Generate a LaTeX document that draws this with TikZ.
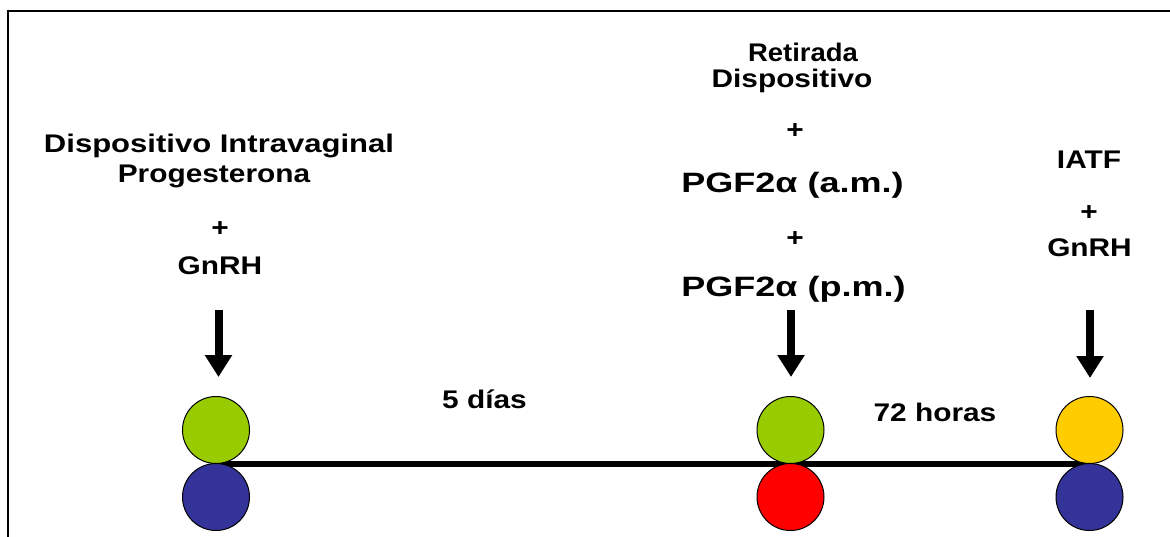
\documentclass[tikz,border=0pt]{standalone}
\usepackage{fontspec}
\setmainfont{Liberation Sans}[FakeStretch=1.17]
\usetikzlibrary{arrows.meta,backgrounds}
\definecolor{dotgreen}{HTML}{99CC00}
\definecolor{dotblue}{HTML}{333399}
\definecolor{dotred}{HTML}{FF0000}
\definecolor{dotyellow}{HTML}{FFCC00}
\tikzset{
  lbl/.style={anchor=base, inner sep=0pt, font=\fontsize{25.5}{30}\selectfont\bfseries},
  biglbl/.style={anchor=base, inner sep=0pt, font=\fontsize{28}{33}\selectfont\bfseries},
  dot/.style={circle, draw=black, line width=1pt, minimum size=67pt, inner sep=0pt},
  downarrow/.style={line width=8pt, -{Triangle[width=26pt,length=22pt]}},
  frame/.style={line width=2pt, line cap=rect},
}
\begin{document}
\begin{tikzpicture}[x=1pt,y=-1pt]
\useasboundingbox (0,0) rectangle (1170,537);
% frame
\coordinate (fbl) at (7.7,540);
\coordinate (ftl) at (7.7,11);
\coordinate (ftr) at (1172,11);
\draw[frame] (fbl) -- (ftl) -- (ftr);
% left column texts
\node[lbl] (l1) at (219,153) {\scalebox{1.04}[1]{Dispositivo Intravaginal}};
\node[lbl] (l2) at (214,183) {Progesterona};
\node[lbl] (l3) at (220,237) {+};
\node[lbl] (l4) at (220,275) {GnRH};
% middle column texts
\node[lbl] (m1) at (803,62) {\scalebox{0.92}[1]{Retirada}};
\node[lbl] (m2) at (792,88) {Dispositivo};
\node[lbl] (m3) at (795,139) {+};
\node[biglbl] (m4) at (792.5,193) {\scalebox{1.1}[1]{PGF2α (a.m.)}};
\node[lbl] (m5) at (795,246.5) {+};
\node[biglbl] (m6) at (793.5,297) {\scalebox{1.1}[1]{PGF2α (p.m.)}};
% right column texts
\node[lbl] (r1) at (1089,169) {IATF};
\node[lbl] (r2) at (1089,221) {+};
\node[lbl] (r3) at (1089.5,257) {GnRH};
% interval labels
\node[lbl] (d5) at (484.5,408) {5 días};
\node[lbl] (h72) at (935,421) {72 horas};
% circles
\node[dot, fill=dotgreen] (g1) at (216,430) {};
\node[dot, fill=dotblue] (b1) at (216,497) {};
\node[dot, fill=dotgreen] (g2) at (790.5,430) {};
\node[dot, fill=dotred] (rd2) at (790.5,497) {};
\node[dot, fill=dotyellow] (y3) at (1089.5,430) {};
\node[dot, fill=dotblue] (b3) at (1089.5,497) {};
% timeline
\begin{pgfonlayer}{background}
\draw[line width=5.5pt] (g1.south) -- (y3.south);
\end{pgfonlayer}
% arrows
\coordinate (a1s) at (218.5,310);
\coordinate (a1e) at (218.5,377);
\coordinate (a2s) at (791,310);
\coordinate (a2e) at (791,377);
\coordinate (a3s) at (1090,310);
\coordinate (a3e) at (1090,378);
\draw[downarrow] (a1s) -- (a1e);
\draw[downarrow] (a2s) -- (a2e);
\draw[downarrow] (a3s) -- (a3e);
\end{tikzpicture}
\end{document}
